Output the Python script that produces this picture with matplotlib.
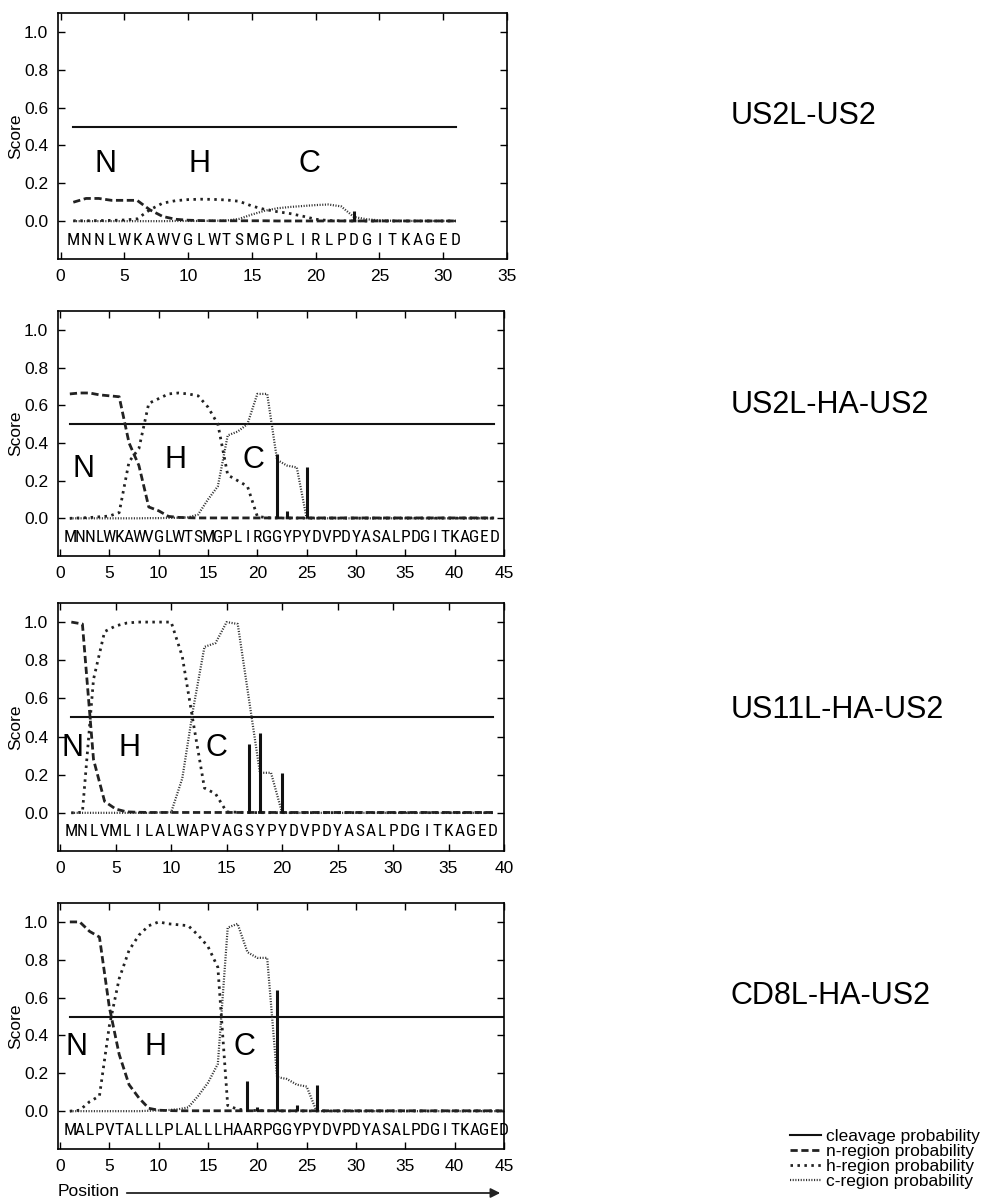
import matplotlib
matplotlib.use('Agg')
import matplotlib.pyplot as plt
from matplotlib import font_manager
from matplotlib.lines import Line2D

plt.rcParams['font.family'] = ['Liberation Sans', 'DejaVu Sans']

# narrow face for the residue letters, if one is installed
names_installed = set(f.name for f in font_manager.fontManager.ttflist)
seq_family = [f for f in ['Roboto Condensed', 'Liberation Sans Narrow', 'DejaVu Sans Condensed',
                          'Open Sans Condensed'] if f in names_installed] + ['Liberation Sans']

THRESHOLD = 0.5

names = ['US2L-US2', 'US2L-HA-US2', 'US11L-HA-US2', 'CD8L-HA-US2']
seqs = ['MNNLWKAWVGLWTSMGPLIRLPDGITKAGED',
        'MNNLWKAWVGLWTSMGPLIRGGYPYDVPDYASALPDGITKAGED',
        'MNLVMLILALWAPVAGSYPYDVPDYASALPDGITKAGED',
        'MALPVTALLLPLALLLHAARPGGYPYDVPDYASALPDGITKAGED']
xmax = [35, 45, 40, 45]

# panel 1: US2L-US2 (31 residues)
n1 = [0.10, 0.12, 0.12, 0.11, 0.11, 0.11, 0.06, 0.025, 0.01, 0.005,
      0.003, 0.002, 0.002, 0.002, 0.002, 0.002, 0.001, 0.001, 0.001, 0.001,
      0.001, 0.001, 0.001, 0.001, 0.001, 0.001, 0.001, 0.001, 0.001, 0.001,
      0.001]
h1 = [0.002, 0.002, 0.003, 0.004, 0.006, 0.012, 0.06, 0.095, 0.108, 0.114,
      0.116, 0.115, 0.112, 0.105, 0.08, 0.062, 0.05, 0.04, 0.026, 0.01,
      0.003, 0.002, 0.001, 0.001, 0.001, 0.001, 0.001, 0.001, 0.001, 0.001,
      0.001]
c1 = [0.0, 0.0, 0.0, 0.0, 0.0, 0.0, 0.0, 0.0, 0.001, 0.001,
      0.001, 0.002, 0.003, 0.012, 0.035, 0.055, 0.068, 0.075, 0.08, 0.085,
      0.088, 0.078, 0.022, 0.01, 0.004, 0.002, 0.001, 0.001, 0.001, 0.001,
      0.001]
cl1 = [0.0, 0.0, 0.0, 0.0, 0.0, 0.0, 0.0, 0.0, 0.0, 0.0,
       0.0, 0.0, 0.0, 0.0, 0.0, 0.0, 0.0, 0.0, 0.0, 0.0,
       0.0, 0.0, 0.055, 0.0, 0.0, 0.0, 0.0, 0.0, 0.0, 0.0,
       0.0]

# panel 2: US2L-HA-US2 (44 residues)
n2 = [0.66, 0.665, 0.665, 0.655, 0.65, 0.645, 0.40, 0.28, 0.06, 0.04,
      0.01, 0.005, 0.003, 0.002, 0.002, 0.002, 0.002, 0.002, 0.002, 0.002,
      0.002, 0.002, 0.002, 0.002, 0.002, 0.002, 0.002, 0.002, 0.002, 0.002,
      0.002, 0.002, 0.002, 0.002, 0.002, 0.002, 0.002, 0.002, 0.002, 0.002,
      0.002, 0.002, 0.002, 0.002]
h2 = [0.0, 0.002, 0.004, 0.008, 0.012, 0.03, 0.30, 0.37, 0.61, 0.635,
      0.66, 0.665, 0.66, 0.65, 0.59, 0.50, 0.23, 0.20, 0.17, 0.01,
      0.003, 0.002, 0.001, 0.001, 0.001, 0.001, 0.001, 0.001, 0.001, 0.001,
      0.001, 0.001, 0.001, 0.001, 0.001, 0.001, 0.001, 0.001, 0.001, 0.001,
      0.001, 0.001, 0.001, 0.001]
c2 = [0.0, 0.0, 0.0, 0.0, 0.0, 0.0, 0.0, 0.0, 0.001, 0.001,
      0.002, 0.003, 0.005, 0.02, 0.10, 0.17, 0.44, 0.46, 0.50, 0.66,
      0.66, 0.31, 0.28, 0.27, 0.0, 0.0, 0.0, 0.0, 0.0, 0.0,
      0.0, 0.0, 0.0, 0.0, 0.0, 0.0, 0.0, 0.0, 0.0, 0.0,
      0.0, 0.0, 0.0, 0.0]
cl2 = [0.0, 0.0, 0.0, 0.0, 0.0, 0.0, 0.0, 0.0, 0.0, 0.0,
       0.0, 0.0, 0.0, 0.0, 0.0, 0.0, 0.0, 0.0, 0.0, 0.0,
       0.0, 0.34, 0.04, 0.0, 0.27, 0.0, 0.0, 0.0, 0.0, 0.0,
       0.0, 0.0, 0.0, 0.0, 0.0, 0.0, 0.0, 0.0, 0.0, 0.0,
       0.0, 0.0, 0.0, 0.0]

# panel 3: US11L-HA-US2 (39 residues)
n3 = [1.0, 0.99, 0.28, 0.06, 0.02, 0.005, 0.003, 0.002, 0.002, 0.002,
      0.002, 0.002, 0.002, 0.002, 0.002, 0.002, 0.002, 0.002, 0.002, 0.002,
      0.002, 0.002, 0.002, 0.002, 0.002, 0.002, 0.002, 0.002, 0.002, 0.002,
      0.002, 0.002, 0.002, 0.002, 0.002, 0.002, 0.002, 0.002, 0.002]
h3 = [0.0, 0.003, 0.70, 0.95, 0.98, 0.995, 1.0, 1.0, 1.0, 1.0,
      0.82, 0.47, 0.13, 0.10, 0.005, 0.003, 0.002, 0.001, 0.001, 0.001,
      0.001, 0.001, 0.001, 0.001, 0.001, 0.001, 0.001, 0.001, 0.001, 0.001,
      0.001, 0.001, 0.001, 0.001, 0.001, 0.001, 0.001, 0.001, 0.001]
c3 = [0.0, 0.0, 0.0, 0.0, 0.0, 0.0, 0.0, 0.0, 0.002, 0.003,
      0.18, 0.55, 0.87, 0.89, 1.0, 0.99, 0.60, 0.21, 0.21, 0.0,
      0.0, 0.0, 0.0, 0.0, 0.0, 0.0, 0.0, 0.0, 0.0, 0.0,
      0.0, 0.0, 0.0, 0.0, 0.0, 0.0, 0.0, 0.0, 0.0]
cl3 = [0.0, 0.0, 0.0, 0.0, 0.0, 0.0, 0.0, 0.0, 0.0, 0.0,
       0.0, 0.0, 0.0, 0.0, 0.0, 0.0, 0.36, 0.42, 0.0, 0.21,
       0.0, 0.0, 0.0, 0.0, 0.0, 0.0, 0.0, 0.0, 0.0, 0.0,
       0.0, 0.0, 0.0, 0.0, 0.0, 0.0, 0.0, 0.0, 0.0]

# panel 4: CD8L-HA-US2 (45 residues)
n4 = [1.0, 1.0, 0.95, 0.92, 0.55, 0.30, 0.14, 0.07, 0.015, 0.005,
      0.003, 0.002, 0.002, 0.002, 0.002, 0.002, 0.002, 0.002, 0.002, 0.002,
      0.002, 0.002, 0.002, 0.002, 0.002, 0.002, 0.002, 0.002, 0.002, 0.002,
      0.002, 0.002, 0.002, 0.002, 0.002, 0.002, 0.002, 0.002, 0.002, 0.002,
      0.002, 0.002, 0.002, 0.002, 0.002]
h4 = [0.0, 0.005, 0.05, 0.08, 0.45, 0.70, 0.85, 0.93, 0.98, 1.0,
      0.99, 0.985, 0.98, 0.93, 0.87, 0.76, 0.03, 0.01, 0.005, 0.003,
      0.002, 0.001, 0.001, 0.001, 0.001, 0.001, 0.001, 0.001, 0.001, 0.001,
      0.001, 0.001, 0.001, 0.001, 0.001, 0.001, 0.001, 0.001, 0.001, 0.001,
      0.001, 0.001, 0.001, 0.001, 0.001]
c4 = [0.0, 0.0, 0.0, 0.0, 0.0, 0.0, 0.0, 0.0, 0.002, 0.004,
      0.006, 0.01, 0.02, 0.08, 0.15, 0.25, 0.97, 0.99, 0.84, 0.81,
      0.81, 0.18, 0.17, 0.14, 0.13, 0.0, 0.0, 0.0, 0.0, 0.0,
      0.0, 0.0, 0.0, 0.0, 0.0, 0.0, 0.0, 0.0, 0.0, 0.0,
      0.0, 0.0, 0.0, 0.0, 0.0]
cl4 = [0.0, 0.0, 0.0, 0.0, 0.0, 0.0, 0.0, 0.0, 0.0, 0.0,
       0.0, 0.0, 0.0, 0.0, 0.0, 0.0, 0.0, 0.0, 0.16, 0.02,
       0.0, 0.64, 0.0, 0.03, 0.0, 0.14, 0.0, 0.0, 0.0, 0.0,
       0.0, 0.0, 0.0, 0.0, 0.0, 0.0, 0.0, 0.0, 0.0, 0.0,
       0.0, 0.0, 0.0, 0.0, 0.0]

n_reg = [n1, n2, n3, n4]
h_reg = [h1, h2, h3, h4]
c_reg = [c1, c2, c3, c4]
cleav = [cl1, cl2, cl3, cl4]

# where the N / H / C region letters sit (x position, score)
nhc_x = [[3.5, 10.9, 19.5], [2.4, 11.7, 19.6], [1.1, 6.2, 14.1], [1.7, 9.7, 18.7]]
nhc_y = [[0.30, 0.30, 0.30], [0.26, 0.31, 0.31], [0.34, 0.34, 0.34], [0.34, 0.34, 0.34]]

n_style = dict(color='#222222', lw=2.0, linestyle=(0, (2.6, 1.3)))
h_style = dict(color='#222222', lw=2.0, linestyle=(0, (0.9, 1.6)))
c_style = dict(color='#333333', lw=1.6, linestyle=(0, (0.5, 0.7)))

fig = plt.figure(figsize=(9.82, 11.98), dpi=100)
W, H = 982.0, 1198.0
boxes = [(58, 13, 507, 259), (58, 311, 504, 556), (58, 603, 504, 851), (58, 903, 504, 1149)]
label_y = [116, 405, 710, 996]

seq_size = 12.5 if seq_family[0] != 'Liberation Sans' else 10.5

for i in range(4):
    l, t, r, b = boxes[i]
    ax = fig.add_axes([l / W, 1 - b / H, (r - l) / W, (b - t) / H])
    seq = seqs[i]
    pos = list(range(1, len(seq) + 1))

    ax.plot([pos[0], pos[-1]], [THRESHOLD, THRESHOLD], color='#111111', lw=1.5)
    ax.plot(pos, c_reg[i], **c_style)
    ax.plot(pos, h_reg[i], **h_style)
    ax.plot(pos, n_reg[i], **n_style)
    ax.vlines(pos, 0, cleav[i], color='#111111', lw=2.2)

    for p, aa in zip(pos, seq):
        ax.text(p, -0.1, aa, ha='center', va='center', fontsize=seq_size, family=seq_family)
    for lab, xx, yy in zip('NHC', nhc_x[i], nhc_y[i]):
        ax.text(xx, yy, lab, ha='center', va='center', fontsize=22)

    ax.set_xlim(-0.2, xmax[i])
    ax.set_ylim(-0.2, 1.1)
    ax.set_xticks(range(0, xmax[i] + 1, 5))
    ax.set_yticks([0.0, 0.2, 0.4, 0.6, 0.8, 1.0])
    ax.set_yticklabels(['0.0', '0.2', '0.4', '0.6', '0.8', '1.0'])
    ax.tick_params(direction='in', top=True, right=True, length=5, width=1,
                   labelsize=12.5, pad=7)
    for s in ax.spines.values():
        s.set_linewidth(1.2)
    ax.set_ylabel('Score', fontsize=12.5)
    ax.yaxis.set_label_coords(-0.078, 0.5)

    fig.text(731 / W, 1 - label_y[i] / H, names[i], ha='left', va='center', fontsize=22)

# legend in the lower right corner
handles = [Line2D([], [], color='#111111', lw=1.5),
           Line2D([], [], **n_style),
           Line2D([], [], **h_style),
           Line2D([], [], **c_style)]
labels = ['cleavage probability', 'n-region probability',
          'h-region probability', 'c-region probability']
fig.legend(handles, labels, loc='center left', bbox_to_anchor=(790 / W, 1 - 1159 / H),
           frameon=False, fontsize=12.5, handlelength=1.8, handletextpad=0.3,
           labelspacing=0.0, borderpad=0, borderaxespad=0)

# position axis label with arrow
fig.text(58 / W, 1 - 1191 / H, 'Position', ha='left', va='center', fontsize=12.5)
fig.patches.append(matplotlib.patches.FancyArrowPatch(
    (124 / W, 1 - 1193 / H), (503 / W, 1 - 1193 / H), transform=fig.transFigure,
    arrowstyle='-|>', mutation_scale=14, color='#222222', lw=1.3))

fig.savefig('out.png', dpi=100)
